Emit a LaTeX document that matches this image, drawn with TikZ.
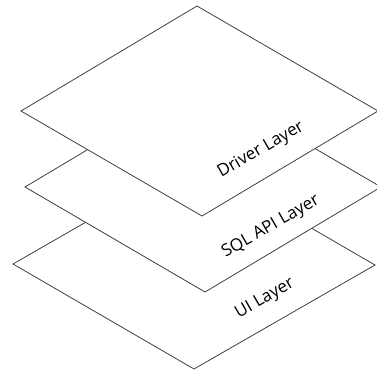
\documentclass[tikz,border=0pt]{standalone}
\usepackage{fontspec}
\setmainfont{Open Sans}
\begin{document}
\begin{tikzpicture}[x=1pt,y=-1pt,
  layer/.style={draw=black!75,fill=white,line width=0.8pt,line join=miter},
  lbl/.style={rotate=30,font=\fontsize{17}{19}\selectfont,text=black,inner sep=0pt}]
\useasboundingbox (0,0) rectangle (377,372);
\clip (0,0) rectangle (377,372);
% UI layer
\coordinate (uiT) at (194,160);
\coordinate (uiL) at (13,264);
\coordinate (uiB) at (194,369);
\coordinate (uiR) at (375,265);
\draw[layer] (uiT) -- (uiL) -- (uiB) -- (uiR) -- cycle;
% SQL layer
\coordinate (sqT) at (201,82);
\coordinate (sqL) at (25,187);
\coordinate (sqB) at (205,292);
\coordinate (sqR) at (381,187);
\draw[layer] (sqT) -- (sqL) -- (sqB) -- (sqR) -- cycle;
% Driver layer
\coordinate (drT) at (197,6);
\coordinate (drL) at (21,111);
\coordinate (drB) at (202,216);
\coordinate (drR) at (378,111);
\draw[layer] (drT) -- (drL) -- (drB) -- (drR) -- cycle;
% labels
\node[lbl] (drText) at (261,150) {Driver Layer};
\node[lbl] (sqText) at (271,227) {SQL API Layer};
\node[lbl] (uiText) at (265,299) {UI Layer};
\end{tikzpicture}
\end{document}
